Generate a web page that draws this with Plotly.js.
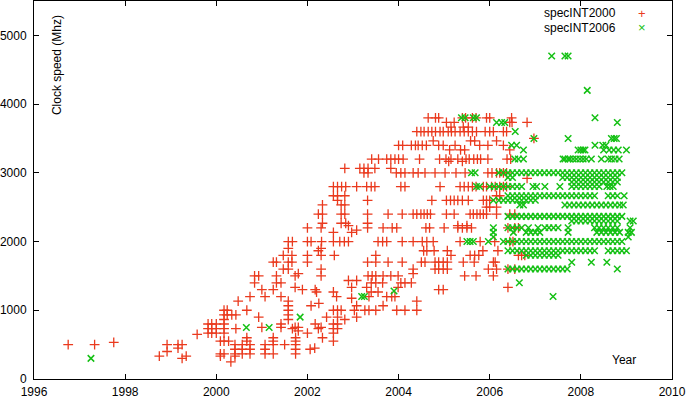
<!DOCTYPE html>
<html>
<head>
<meta charset="utf-8">
<script src="https://cdn.plot.ly/plotly-3.0.1.min.js"></script>
<style>html,body{margin:0;padding:0;background:#fff;}#chart{width:687px;height:398px;}</style>
</head>
<body>
<div id="chart"></div>
<script>
// ---- specINT2000 : clock speed levels (MHz) and the years at which results appear ----
const int2000Levels = [250, 300, 333, 366, 400, 433, 450, 500, 533, 550, 600, 650, 667, 700, 733, 750, 800, 866, 900, 933,
  1000, 1066, 1100, 1133, 1175, 1200, 1266, 1300, 1333, 1400, 1433, 1500, 1533, 1600, 1700, 1800, 1866, 1900, 2000,
  2133, 2166, 2200, 2233, 2266, 2400, 2500, 2533, 2600, 2666, 2800, 2920, 3000, 3066, 3166, 3200, 3333, 3400, 3466,
  3500, 3600, 3666, 3733, 3800];
const int2000Years = [
  [2000.32],
  [1999.25],
  [1998.75, 1999.34, 2000.09, 2000.41],
  [2000.09, 2000.17, 2000.41, 2000.57, 2000.74, 2001.07, 2001.25, 2001.74],
  [1998.92],
  [2000.41, 2000.57, 2000.74, 2001.07, 2001.74, 2002.06],
  [1999.16, 2002.16],
  [1996.75, 1997.33, 1998.92, 1999.16, 1999.25, 2000.41, 2000.57, 2000.74, 2001.07, 2001.25, 2001.5, 2001.74],
  [1997.75],
  [2000.09, 2000.17, 2000.27, 2000.67, 2001.25, 2001.74, 2002.57],
  [2000.67, 2001.25, 2001.74, 2002.33],
  [1999.58],
  [1999.82, 1999.9, 2000.0, 2000.17, 2002.0, 2002.57],
  [2001.8],
  [1999.82, 1999.9, 2000.0, 2000.17, 2000.43, 2001.67, 2002.24, 2002.57, 2002.66],
  [2001.0, 2001.42, 2001.73, 2001.8, 2002.3],
  [1999.82, 1999.9, 2000.0, 2000.17, 2001.42, 2002.17, 2002.57, 2002.66],
  [2000.17, 2001.58, 2002.82],
  [2000.93, 2002.42, 2002.66, 2003.08],
  [2000.17, 2000.24, 2000.34, 2000.43, 2001.58],
  [2000.17, 2000.24, 2000.67, 2001.58, 2002.57, 2002.66, 2002.74, 2003.03, 2003.26, 2003.35, 2003.5, 2003.96, 2004.14, 2004.4],
  [2001.58, 2002.08, 2003.08, 2003.66],
  [2002.25],
  [2000.48, 2001.58, 2004.4],
  [2002.97],
  [2000.74, 2001.07, 2001.42, 2002.64, 2003.35, 2003.74, 2003.85, 2003.92],
  [2002.2, 2002.57, 2003.4, 2003.55],
  [2001.0, 2001.25, 2001.89, 2002.17, 2004.88, 2004.98],
  [2001.73, 2002.97, 2003.3, 2003.99, 2006.4],
  [2000.84, 2001.32, 2001.42, 2003.4, 2003.5, 2003.65, 2004.05, 2004.14, 2004.28],
  [2002.9, 2003.08],
  [2000.84, 2000.93, 2001.32, 2001.73, 2002.3, 2003.33, 2003.42, 2003.5, 2003.66, 2003.83, 2003.99, 2005.45, 2005.7, 2006.08],
  [2001.8, 2004.32],
  [2001.47, 2001.58, 2002.3, 2004.32, 2004.8, 2004.88, 2004.98, 2005.07, 2005.97, 2006.15, 2006.4, 2006.55],
  [2001.25, 2001.32, 2001.58, 2001.66, 2002.0, 2003.32, 2003.5, 2003.77, 2004.08, 2004.5, 2004.58, 2004.8, 2004.88, 2004.98, 2005.07, 2005.42, 2005.66, 2006.08, 2006.12],
  [2001.47, 2001.66, 2002.0, 2002.3, 2002.59, 2003.5, 2005.15, 2005.57, 2005.67, 2005.76, 2006.63, 2006.7, 2006.77],
  [2002.24, 2004.55, 2004.62, 2004.78, 2005.07, 2005.85, 2006.18],
  [2001.58, 2002.3],
  [2001.58, 2001.67, 2002.0, 2002.08, 2002.31, 2002.57, 2002.71, 2002.81, 2002.9, 2003.55, 2003.65, 2003.74, 2004.08, 2004.32, 2004.52, 2004.62, 2004.76, 2005.35, 2005.79, 2006.11, 2006.44, 2006.51],
  [2002.57, 2002.97],
  [2003.08],
  [2002.0, 2002.3, 2003.32, 2003.66, 2003.86, 2003.96, 2004.6, 2004.68, 2005.0, 2005.3, 2005.4, 2005.5, 2005.6, 2006.4, 2006.55, 2006.63],
  [2002.9, 2005.3, 2005.5],
  [2002.33, 2002.74, 2002.84, 2003.32],
  [2002.24, 2002.33, 2002.74, 2002.82, 2003.32, 2003.77, 2004.08, 2004.32, 2004.4, 2004.49, 2004.56, 2004.63, 2004.7, 2005.05, 2005.22, 2005.57, 2005.64, 2005.72, 2005.79, 2005.86, 2005.93, 2006.15, 2006.44, 2006.55],
  [2005.93, 2006.0, 2006.15],
  [2002.33, 2002.74, 2002.82],
  [2002.66, 2003.32, 2004.73, 2005.05, 2005.14, 2005.22, 2005.3, 2005.4, 2005.53, 2005.86, 2005.93, 2006.0],
  [2002.57, 2002.66, 2002.82, 2006.15, 2006.22],
  [2002.57, 2002.66, 2002.75, 2002.84, 2003.08, 2003.3, 2003.4, 2003.48, 2004.05, 2004.14, 2004.91, 2005.35, 2005.44, 2005.53, 2005.62, 2005.7, 2005.86, 2005.93, 2006.04, 2006.12, 2006.22, 2006.3, 2006.37],
  [2006.82],
  [2003.24, 2003.33, 2003.95, 2004.05, 2004.14, 2004.32, 2004.43, 2004.58, 2004.8, 2005.02, 2005.26, 2005.46, 2005.96, 2006.05, 2006.15, 2006.22, 2006.3, 2006.37],
  [2002.82, 2003.15, 2003.24, 2003.33, 2003.48, 2003.83],
  [2005.1, 2005.4],
  [2003.41, 2003.56, 2003.74, 2003.83, 2003.92, 2004.0, 2004.1, 2004.46, 2004.9, 2005.04, 2005.15, 2005.3, 2005.48, 2005.55, 2005.65, 2005.73, 2005.8, 2005.96, 2006.38, 2006.46],
  [2005.12, 2005.36, 2005.45, 2006.44],
  [2004.0, 2004.09, 2004.28, 2004.37, 2004.43, 2004.52, 2004.61, 2004.88, 2004.98, 2005.24, 2005.78, 2005.96, 2006.3],
  [2004.76, 2005.58, 2005.67, 2006.15],
  [2006.97],
  [2004.4, 2004.49, 2004.56, 2004.65, 2004.73, 2004.81, 2004.91, 2004.98, 2005.09, 2005.16, 2005.24, 2005.35, 2005.44, 2005.53, 2005.62, 2005.71, 2005.9, 2006.0, 2006.08, 2006.3, 2006.37],
  [2005.15, 2005.42, 2005.53],
  [2005.05, 2005.22, 2006.44, 2006.49, 2006.82],
  [2004.65, 2004.81, 2004.88, 2005.4, 2005.47, 2005.62, 2005.7, 2005.93, 2006.0, 2006.48]
];

// ---- specINT2006 ----
const int2006Levels = [300, 750, 900, 1200, 1280, 1400, 1600, 1700, 1800, 1866, 2000, 2066, 2133, 2200, 2300, 2366,
  2533, 2600, 2666, 2800, 2866, 2933, 3000, 3200, 3333, 3400, 3500, 3600, 3733, 3800, 4200, 4700];
const int2006Years = [
  [1997.25],
  [2000.66, 2001.16],
  [2001.84],
  [2003.19, 2003.25, 2007.39],
  [2003.9],
  [2006.65],
  [2006.4, 2006.5, 2006.6, 2006.7, 2006.8, 2006.9, 2007.0, 2007.1, 2007.2, 2007.3, 2007.4, 2007.5, 2007.6, 2007.7, 2008.8],
  [2007.8, 2008.23, 2008.57],
  [2006.8, 2006.9, 2007.0, 2007.1, 2007.2, 2007.3, 2007.4, 2007.5],
  [2006.4, 2006.5, 2006.6, 2006.7, 2006.8, 2006.9, 2007.0, 2007.1, 2007.2, 2007.3, 2007.4, 2007.5, 2007.6, 2007.7, 2007.8, 2007.9, 2008.0, 2008.1, 2008.2, 2008.3, 2008.6, 2008.7, 2008.8, 2008.9, 2009.0],
  [2005.5, 2005.57, 2005.64, 2005.97, 2006.3, 2006.4, 2006.5, 2006.6, 2006.7, 2006.8, 2006.9, 2007.0, 2007.1, 2007.2, 2007.3, 2007.4, 2007.5, 2007.6, 2007.7, 2007.8, 2007.9, 2008.0, 2008.1, 2008.2, 2008.3, 2008.4, 2008.5, 2008.6, 2008.7, 2008.8, 2008.9],
  [2006.08, 2009.04],
  [2006.08, 2006.52, 2006.8, 2006.9, 2007.0, 2007.1, 2007.72, 2008.35, 2008.45, 2008.55, 2008.65, 2008.75, 2008.85, 2009.04, 2009.11],
  [2006.08, 2006.4, 2006.5, 2006.6, 2006.7, 2006.85, 2007.06, 2007.21, 2007.3, 2007.4, 2007.5, 2007.72, 2008.3, 2008.4, 2008.5, 2008.6, 2008.7, 2008.8, 2009.08],
  [2007.8, 2007.9, 2008.0, 2008.1, 2008.2, 2008.3, 2008.4, 2008.5, 2008.6, 2008.7, 2008.8, 2009.08, 2009.15],
  [2006.4, 2006.5, 2006.6, 2006.7, 2006.8, 2006.9, 2007.0, 2007.1, 2007.2, 2007.3, 2007.4, 2007.5, 2007.6, 2007.7, 2007.8, 2007.9, 2008.0, 2008.1, 2008.2, 2008.3, 2008.4, 2008.5, 2008.6, 2008.7, 2008.8, 2008.9],
  [2006.66, 2006.74, 2007.65, 2007.75, 2007.85, 2007.95, 2008.05, 2008.15, 2008.25, 2008.35, 2008.45, 2008.55, 2008.65, 2008.75, 2008.85, 2008.93],
  [2006.08, 2006.2, 2006.3, 2006.4, 2006.5, 2006.6, 2006.7, 2006.8, 2006.9, 2007.0],
  [2006.4, 2006.5, 2006.6, 2006.7, 2006.8, 2006.9, 2007.0, 2007.1, 2007.2, 2007.3, 2007.4, 2007.5, 2007.6, 2007.7, 2007.8, 2007.9, 2008.0, 2008.1, 2008.2, 2008.3, 2008.6, 2008.7, 2008.8, 2008.95],
  [2005.71, 2005.78, 2006.0, 2006.1, 2006.2, 2006.3, 2006.4, 2006.5, 2006.6, 2006.7, 2006.95, 2007.03, 2007.21, 2007.54, 2007.8, 2007.9, 2008.0, 2008.1, 2008.2, 2008.3, 2008.4, 2008.57, 2008.64, 2008.71],
  [2007.8, 2007.9, 2008.0, 2008.1, 2008.2, 2008.3, 2008.4, 2008.5, 2008.6, 2008.7, 2008.8],
  [2006.4, 2006.5, 2007.6, 2007.7, 2007.8, 2007.9, 2008.0, 2008.1, 2008.2, 2008.3, 2008.4, 2008.5, 2008.6, 2008.7, 2008.8],
  [2005.6, 2005.68, 2006.2, 2006.3, 2006.4, 2006.5, 2006.6, 2006.7, 2006.8, 2006.9, 2007.0, 2007.1, 2007.2, 2007.3, 2007.4, 2007.5, 2007.6, 2007.7, 2007.8, 2007.9, 2008.0, 2008.1, 2008.2, 2008.3, 2008.4, 2008.5, 2008.6, 2008.7, 2008.8, 2008.9],
  [2006.55, 2006.63, 2006.74, 2007.61, 2007.65, 2007.72, 2007.76, 2007.83, 2007.9, 2007.98, 2008.05, 2008.12, 2008.23, 2008.45, 2008.6, 2008.67, 2008.75, 2008.84],
  [2006.74, 2007.94, 2008.0, 2008.05, 2008.09, 2008.5, 2008.62, 2008.72, 2008.82, 2009.0],
  [2006.48, 2006.59, 2008.31, 2008.48, 2008.55],
  [2006.97, 2007.72, 2008.67, 2008.73, 2008.78],
  [2006.56],
  [2006.15, 2006.26, 2006.33, 2008.8],
  [2005.38, 2005.46, 2005.64, 2005.71, 2008.31],
  [2008.14],
  [2007.36, 2007.65, 2007.72]
];

const seriesNames = ['specINT2000', 'specINT2006'];
const xTickVals = [1996, 1998, 2000, 2002, 2004, 2006, 2008, 2010];
const yTickVals = [0, 1000, 2000, 3000, 4000, 5000];

function flatten(levels, years) {
  const x = [], y = [];
  levels.forEach((lv, i) => years[i].forEach(yr => { x.push(yr); y.push(lv); }));
  return {x, y};
}

const RED = '#ea3a1e', GREEN = '#14c014';
const a = flatten(int2000Levels, int2000Years);
const b = flatten(int2006Levels, int2006Years);

const traces = [
  {x: a.x, y: a.y, type: 'scatter', mode: 'markers', name: seriesNames[0],
   marker: {symbol: 'cross-thin-open', size: 7, color: RED, line: {color: RED, width: 1.3}}},
  {x: b.x, y: b.y, type: 'scatter', mode: 'markers', name: seriesNames[1],
   marker: {symbol: 'x-thin-open', size: 6.5, color: GREEN, line: {color: GREEN, width: 1.5}}}
];

const font = {family: 'Liberation Sans, Arial, sans-serif', size: 12, color: '#000'};
const axisCommon = {showgrid: false, zeroline: false, showline: true, linecolor: '#000', linewidth: 1,
  mirror: 'ticks', ticks: 'inside', ticklen: 5, tickcolor: '#000', tickfont: font};

const layout = {
  width: 687, height: 398,
  margin: {l: 34, r: 15, t: 1, b: 19},
  paper_bgcolor: '#fff', plot_bgcolor: '#fff',
  showlegend: false,
  font: font,
  xaxis: Object.assign({}, axisCommon, {range: [1996, 2010], tickvals: xTickVals, ticktext: xTickVals.map(String), ticklabelstandoff: 2}),
  yaxis: Object.assign({}, axisCommon, {range: [0, 5500], tickvals: yTickVals, ticktext: yTickVals.map(String), ticklabelstandoff: 4}),
  annotations: [
    {text: 'Clock speed (Mhz)', textangle: -90, xref: 'paper', yref: 'paper', x: 0.036, y: 0.968,
     xanchor: 'center', yanchor: 'top', showarrow: false, font: font},
    {text: 'Year', xref: 'paper', yref: 'paper', x: 0.925, y: 0.05, xanchor: 'center', yanchor: 'middle', showarrow: false, font: font},
    {text: seriesNames[0], xref: 'paper', yref: 'paper', x: 0.9154, y: 0.9675, xanchor: 'right', yanchor: 'middle', showarrow: false, font: font},
    {text: seriesNames[1], xref: 'paper', yref: 'paper', x: 0.9154, y: 0.9294, xanchor: 'right', yanchor: 'middle', showarrow: false, font: font},
    {text: '+', xref: 'paper', yref: 'paper', x: 0.9525, y: 0.9675, xanchor: 'center', yanchor: 'middle', showarrow: false,
     font: {family: font.family, size: 13, color: RED}},
    {text: '×', xref: 'paper', yref: 'paper', x: 0.9525, y: 0.9294, xanchor: 'center', yanchor: 'middle', showarrow: false,
     font: {family: font.family, size: 13, color: GREEN}}
  ]
};

Plotly.newPlot('chart', traces, layout, {staticPlot: true, displayModeBar: false});
</script>
</body>
</html>
